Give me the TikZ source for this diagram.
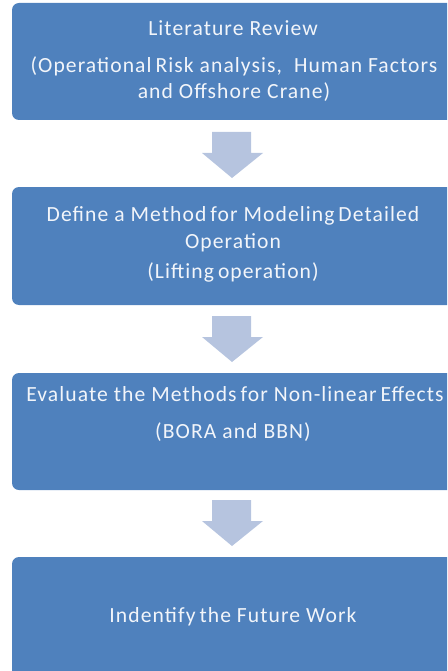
\documentclass[tikz,border=0pt]{standalone}
\usepackage{fontspec}
\setmainfont{Carlito}
\newfontfamily\boxfont[LetterSpace=5]{Carlito}
\usetikzlibrary{calc}
\definecolor{boxblue}{HTML}{4F81BD}
\definecolor{arrowblue}{HTML}{B6C4DF}
\definecolor{txt}{HTML}{F2F5FA}
\begin{document}
\begin{tikzpicture}[x=1pt,y=-1pt,
  stepbox/.style={draw=none,fill=boxblue,rounded corners=7pt},
  line/.style={anchor=base,text=txt,font=\boxfont\fontsize{21.6}{25}\selectfont,inner sep=0pt},
  blockarrow/.style={fill=arrowblue,draw=none}]
\useasboundingbox (0,0) rectangle (447,671);
\begin{scope}
\clip (0,0) rectangle (447,671);
\path[stepbox] (12,3) rectangle (456,120);
\path[stepbox] (12,187) rectangle (456,305);
\path[stepbox] (12,373) rectangle (456,490);
\path[stepbox] (12,557) rectangle (456,680);
\end{scope}
\node (box1) at (234,61.5) {};
\node (box2) at (234,246) {};
\node (box3) at (234,431.5) {};
\node (box4) at (234,614) {};
\foreach \t in {132,316,500}{
  \path[blockarrow] (212,\t) -- (251,\t) -- (251,\t+21) -- (263,\t+21) -- (232,\t+46) -- (202,\t+21) -- (212,\t+21) -- cycle;
}
\node[line] (t1a) at (233,36) {Literature Review};
\node[line] (t1b) at (234,73) {(Operational\hspace{-2pt} Risk analysis,\ \ Human Factors};
\node[line] (t1c) at (234,99) {and Offshore Crane)};
\node[line] (t2a) at (233,221) {Define a Method\hspace{-2pt} for Modeling\hspace{-2pt} Detailed};
\node[line] (t2b) at (233,248) {Operation};
\node[line] (t2c) at (233,278) {(Lifting\hspace{-2pt} operation)};
\node[line] (t3a) at (235,401) {Evaluate the Methods\hspace{-2pt} for Non-linear\hspace{-2pt} Effects};
\node[line] (t3b) at (233,438) {(BORA and BBN)};
\node[line] (t4a) at (233,622) {Indentify\hspace{-2pt} the Future Work};
\end{tikzpicture}
\end{document}
